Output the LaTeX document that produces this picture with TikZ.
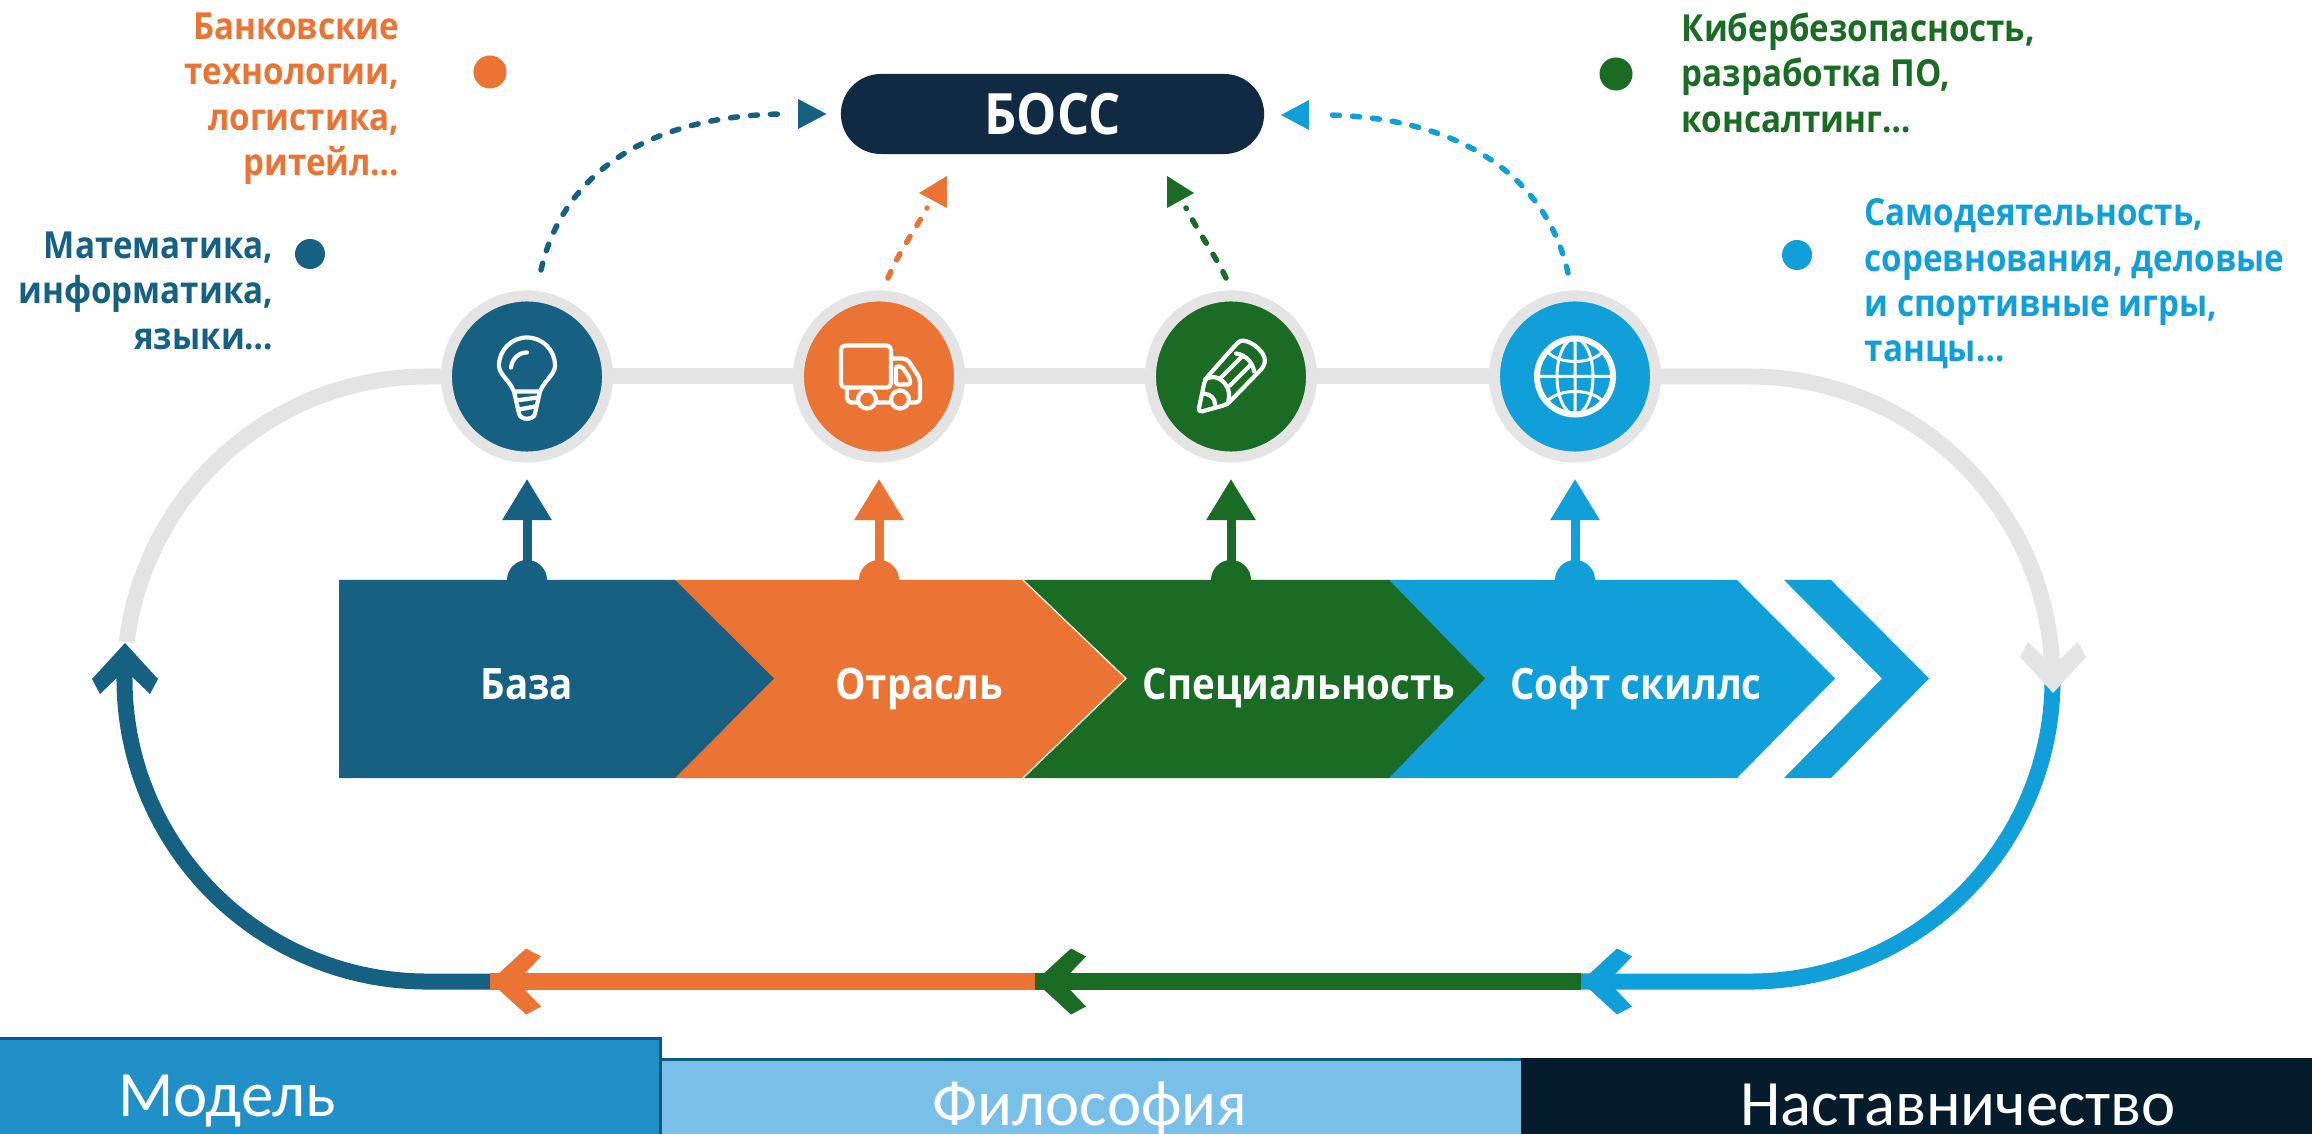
\documentclass[tikz,border=0pt]{standalone}
\usepackage{fontspec}
\setmainfont{Open Sans}[FakeStretch=0.89]
\newfontfamily\bottomfont{Carlito}
\usetikzlibrary{arrows.meta,%
		calc,%
		positioning,%
		shapes.misc}
\definecolor{bazablue}{HTML}{166082}
\definecolor{otrorange}{HTML}{EB7333}
\definecolor{specgreen}{HTML}{1A6B24}
\definecolor{softcyan}{HTML}{119FDA}
\definecolor{trackgray}{HTML}{E4E4E4}
\definecolor{bossnavy}{HTML}{102A43}
\definecolor{modelblue}{HTML}{2290C8}
\definecolor{philblue}{HTML}{78C0E8}
\definecolor{mentornavy}{HTML}{051C2C}
\definecolor{baredge}{HTML}{0B5A80}
\tikzset{
	track/.style={line width=.16cm},
	stopcircle/.style={circle,draw=trackgray,line width=.11cm,minimum size=1.61cm,inner sep=0pt},
	sidelabel/.style={inner sep=0pt,font=\fontsize{10.6}{12.9}\selectfont\bfseries},
	bandlabel/.style={text=white,inner sep=0pt,anchor=base,font=\fontsize{12.3}{14}\selectfont\bfseries},
	bottomlabel/.style={text=white,inner sep=0pt,anchor=base,font=\fontsize{18.4}{22}\bottomfont},
	riser/.style={line width=.09cm,-{Triangle[length=.41cm,width=.47cm]}},
	dotted line/.style={line width=.055cm,line cap=round,dash pattern=on .07cm off .13cm},
	iconline/.style={white,line width=.042cm,line join=round,line cap=round},
	chevron/.pic={\path[pic actions] (0,0) -- (36,33) -- (51,25) -- (27,0) -- (51,-25) -- (36,-33) -- cycle;},
	bulbicon/.pic={
		\draw[iconline] (-13,15) .. controls (-18,3) and (-28,-2) .. (-28,-11) arc[start angle=180,end angle=360,radius=28] .. controls (28,-2) and (18,3) .. (13,15) -- cycle;
		\draw[iconline] (-13,15) -- (-8,37) .. controls (-7,44) and (7,44) .. (8,37) -- (13,15);
		\draw[iconline] (-11,24) -- (11,21) (-8,33) -- (8,30);
		\draw[iconline] (-16,-9) .. controls (-15,-18) and (-8,-24) .. (0,-24);
	},
	truckicon/.pic={
		\draw[iconline,rounded corners=1.2pt] (-38,-31) rectangle (12,11);
		\draw[iconline,rounded corners=1.2pt] (13,-18) -- (28,-18) -- (41,2) -- (41,26) -- (30,26);
		\draw[iconline,rounded corners=.6pt] (17,-10) -- (23,-10) -- (31,2) -- (31,8) -- (17,8) -- cycle;
		\draw[iconline,rounded corners=1.2pt] (-32,11) -- (-32,26) -- (-21,26);
		\draw[iconline] (-3,26) -- (12,26) (-12,23) circle[radius=9] (21,23) circle[radius=9];
	},
	penicon/.pic={
		\draw[iconline,rounded corners=1.2pt] (-33,36) -- (-26,3) -- (5,-32) .. controls (14,-40) and (36,-26) .. (33,-10) -- (-4,28) -- cycle;
		\draw[iconline] (-26,3) .. controls (-12,-6) and (4,12) .. (-4,28);
		\draw[iconline] (5,-23) .. controls (14,-22) and (22,-14) .. (23,-5);
		\draw[iconline] (-10,1) -- (11,-20) (-1,9) -- (19,-11);
		\draw[iconline] (-27,17) .. controls (-20,18) and (-16,22) .. (-16,28);
	},
	globeicon/.pic={
		\draw[white,line width=.06cm] (0,0) circle[radius=38];
		\draw[iconline,line width=.03cm] (0,0) ellipse[x radius=18,y radius=38] (-38,0) -- (38,0) (0,-38) -- (0,38);
		\draw[iconline,line width=.03cm] (-27,-24) .. controls (-15,-12) and (15,-12) .. (27,-24) (-27,24) .. controls (-15,12) and (15,12) .. (27,24);
	}
}
\begin{document}
\begin{tikzpicture}[x=.01cm,y=-.01cm]
\useasboundingbox (0,0) rectangle (2312,1134);
%Percorso
\node[stopcircle,fill=bazablue] (bulbstop) at (527,376.5) {};
\node[stopcircle,fill=otrorange] (truckstop) at (879,376.5) {};
\node[stopcircle,fill=specgreen] (penstop) at (1231,376.5) {};
\node[stopcircle,fill=softcyan] (globestop) at (1575,376.5) {};
\pic at (bulbstop) {bulbicon};
\pic at (truckstop) {truckicon};
\pic at (penstop) {penicon};
\pic at (globestop) {globeicon};
\draw[track,trackgray] (bulbstop) -- (truckstop);
\draw[track,trackgray] (truckstop) -- (penstop);
\draw[track,trackgray] (penstop) -- (globestop);
\draw[track,trackgray] (bulbstop.west) -- (427,376.5) arc[start angle=270,end angle=187,radius=302.5];
\draw[track,trackgray] (globestop.east) -- (1750,376.5) arc[start angle=270,end angle=362,radius=302.5];
\draw[track,bazablue] (124.9,663.2) arc[start angle=183,end angle=90,radius=302.5] -- (500,981.5);
\coordinate (orangetip) at (490,981.5);
\coordinate (greentip) at (1035,981.5);
\coordinate (cyantip) at (1581,981.5);
\draw[track,otrorange] (orangetip) -- (greentip);
\pic[fill=otrorange] at (orangetip) {chevron};
\draw[track,specgreen] (greentip) -- (cyantip);
\pic[fill=specgreen] at (greentip) {chevron};
\draw[track,softcyan] (2052.5,684.3) arc[start angle=1,end angle=90,radius=302.5] -- (cyantip);
\pic[fill=softcyan] at (cyantip) {chevron};
\pic[fill=bazablue,rotate=-90] at (125,643) {chevron};
\pic[fill=trackgray,rotate=90] at (2053,693) {chevron};
%Frecce verticali
\coordinate (bazafoot) at (527,580);
\coordinate (otrfoot) at (879,580);
\coordinate (specfoot) at (1231,580);
\coordinate (softfoot) at (1575,580);
\coordinate (bazahead) at (527,479);
\coordinate (otrhead) at (879,479);
\coordinate (spechead) at (1231,479);
\coordinate (softhead) at (1575,479);
\foreach \foot/\head/\col in {bazafoot/bazahead/bazablue,otrfoot/otrhead/otrorange,specfoot/spechead/specgreen,softfoot/softhead/softcyan}{
	\fill[\col] (\foot) circle[radius=20];
	\draw[riser,\col] (\foot) -- (\head);
}
%Fascia
\fill[softcyan] (1784,580) -- (1831,580) -- (1929,678.5) -- (1831,778) -- (1784,778) -- (1882,678.5) -- cycle;
\fill[softcyan] (1387,580) -- (1737,580) -- (1835,678.5) -- (1737,778) -- (1387,778) -- cycle;
\fill[specgreen] (1023,580) -- (1389,580) -- (1485,678.5) -- (1389,778) -- (1023,778) -- cycle;
\fill[otrorange] (675,580) -- (1023,580) -- (1126,678.5) -- (1023,778) -- (675,778) -- cycle;
\draw[white,line width=.012cm] (1023,580) -- (1126,678.5) -- (1023,778);
\fill[bazablue] (339,580) -- (675,580) -- (774,678.5) -- (675,778) -- (339,778) -- cycle;
\node[bandlabel] (bazalabel) at (527,700) {База};
\node[bandlabel] (otrlabel) at (919,700) {Отрасль};
\node[bandlabel] (speclabel) at (1299,700) {Специальность};
\node[bandlabel] (softlabel) at (1636,700) {Софт скиллс};
%Capo
\node[rounded rectangle,fill=bossnavy,minimum width=4.23cm,minimum height=.8cm,inner sep=0pt,text=white,font=\fontsize{16.2}{18}\selectfont\bfseries] (boss) at (1052.5,114) {БОСС};
\coordinate (bazadash) at (541,270);
\coordinate (otrdash) at (888,278);
\coordinate (specdash) at (1226,278);
\coordinate (softdash) at (1568,273);
\draw[dotted line,bazablue] (bazadash) .. controls (565,165) and (660,115) .. (785,114);
\draw[dotted line,otrorange] (otrdash) .. controls (900,250) and (915,230) .. (927,208);
\draw[dotted line,specgreen] (specdash) .. controls (1215,255) and (1200,235) .. (1186,208);
\draw[dotted line,softcyan] (softdash) .. controls (1545,170) and (1450,115) .. (1320,115);
\fill[bazablue] (826.5,114) -- (798,99) -- (798,129) -- cycle;
\fill[softcyan] (1281,115) -- (1309,100) -- (1309,130) -- cycle;
\fill[otrorange] (919,193) -- (947,176) -- (947,208) -- cycle;
\fill[specgreen] (1194,193) -- (1167,176) -- (1167,208) -- cycle;
%Punti ed etichette
\node[circle,fill=otrorange,minimum size=.33cm,inner sep=0pt] (otrdot) at (490,72) {};
\node[circle,fill=specgreen,minimum size=.33cm,inner sep=0pt] (specdot) at (1616,74) {};
\node[circle,fill=bazablue,minimum size=.3cm,inner sep=0pt] (bazadot) at (310,254) {};
\node[circle,fill=softcyan,minimum size=.3cm,inner sep=0pt] (softdot) at (1797,255) {};
\node[sidelabel,text=otrorange,align=right,anchor=north east] (otrtext) at (400,12) {Банковские\\технологии,\\логистика,\\ритейл…};
\node[sidelabel,text=bazablue,align=right,anchor=north east] (bazatext) at (274,231) {Математика,\\информатика,\\языки…};
\node[sidelabel,text=specgreen,align=left,anchor=north west] (spectext) at (1681,12) {Кибербезопасность,\\разработка ПО,\\консалтинг…};
\node[sidelabel,text=softcyan,align=left,anchor=north west] (softtext) at (1864,198) {Самодеятельность,\\соревнования, деловые\\и спортивные игры,\\танцы…};
%Base
\fill[modelblue] (0,1037) rectangle (660,1134);
\fill[philblue] (660,1058) rectangle (1521,1134);
\fill[mentornavy] (1521,1058) rectangle (2312,1134);
\draw[baredge,line width=.03cm] (0,1038.5) -- (660,1038.5) -- (660,1134);
\draw[baredge,line width=.03cm] (660,1059.5) -- (1521,1059.5);
\node[bottomlabel] (modellabel) at (227,1116) {Модель};
\node[bottomlabel] (phillabel) at (1090,1125) {Философия};
\node[bottomlabel] (mentorlabel) at (1958,1125) {Наставничество};
\end{tikzpicture}
\end{document}
